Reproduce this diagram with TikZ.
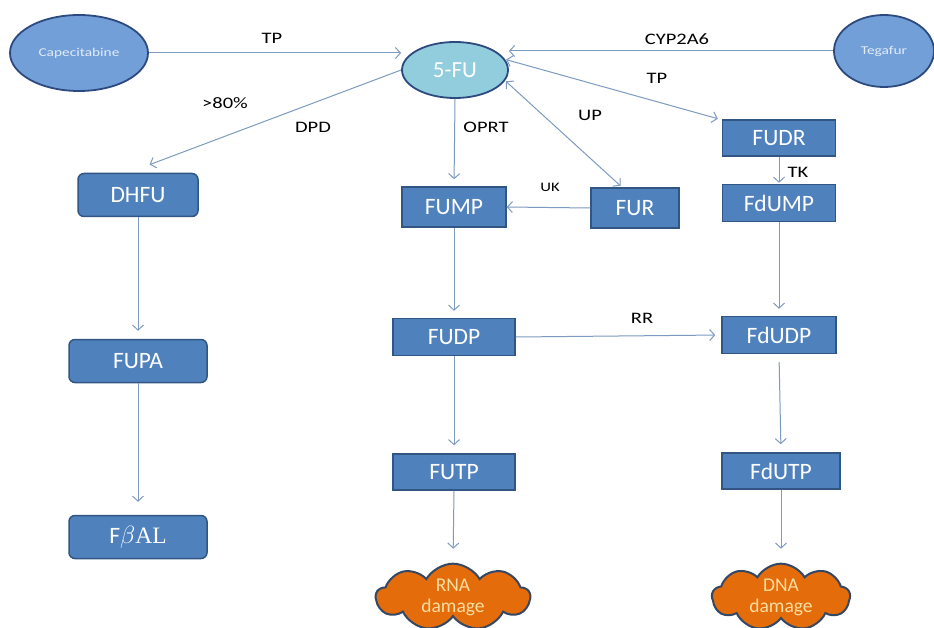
\documentclass[tikz,border=0pt]{standalone}
\usepackage{fontspec}
\setmainfont{Carlito}
\newfontfamily\serifAL{Liberation Serif}
\usetikzlibrary{arrows.meta,shapes.geometric,shapes.symbols,calc}
\definecolor{boxfill}{RGB}{79,129,189}
\definecolor{boxline}{RGB}{50,86,132}
\definecolor{ovalfill}{RGB}{114,159,215}
\definecolor{fufill}{RGB}{146,205,222}
\definecolor{ovalline}{RGB}{44,74,128}
\definecolor{arrowc}{RGB}{125,155,192}
\definecolor{cloudfill}{RGB}{228,108,10}
\definecolor{cloudline}{RGB}{52,72,100}
\definecolor{cloudtext}{RGB}{252,222,160}
\newcommand\wdx[1]{\scalebox{1.28}[1]{#1}}
\begin{document}
\begin{tikzpicture}[x=1pt,y=-1pt,
  box/.style={draw=boxline, line width=1.5pt, fill=boxfill, text=white,
    font=\fontsize{23.5}{25}\selectfont, minimum height=38pt, inner sep=0pt},
  rbox/.style={box, rounded corners=6pt, minimum height=43pt},
  oval/.style={ellipse, draw=ovalline, line width=1.8pt, fill=ovalfill, inner sep=0pt,
    text={rgb,255:red,225;green,235;blue,248}, font=\fontsize{12}{14}\selectfont},
  dmg/.style={cloud, cloud puffs=9, cloud puff arc=120, cloud ignores aspect,
    draw=cloudline, line width=2pt, fill=cloudfill, text=cloudtext, inner sep=0pt,
    minimum width=150pt, minimum height=64pt, align=center,
    font=\fontsize{19.5}{21}\selectfont},
  arr/.style={draw=arrowc, line width=1pt, -{Straight Barb[length=5pt,width=11pt]}},
  darr/.style={draw=arrowc, line width=1pt, {Straight Barb[length=5pt,width=11pt]}-{Straight Barb[length=5pt,width=11pt]}},
  lbl/.style={font=\fontsize{16}{18}\selectfont, text=black, inner sep=0pt}]
\useasboundingbox (0,0) rectangle (934,628);
\fill[white] (0,0) rectangle (934,628);

% ellipses
\node[oval, minimum width=138pt, minimum height=76pt] (cap) at (79,53) {\wdx{Capecitabine}};
\node[oval, minimum width=100pt, minimum height=72pt] (teg) at (884,51) {\wdx{Tegafur}};
\node[oval, fill=fufill, minimum width=106pt, minimum height=56pt, text=white,
      font=\fontsize{23}{25}\selectfont] (fu) at (455,70) {5-FU};

% left column
\node[rbox, minimum width=120pt] (dhfu) at (138,195) {DHFU};
\node[rbox, minimum width=138pt] (fupa) at (138,361) {FUPA};
\node[rbox, minimum width=138pt] (fbal) at (138,537) {F$\beta${\serifAL AL}};

% middle column
\node[box, minimum width=104pt, minimum height=40pt] (fump) at (454,207) {FUMP};
\node[box, minimum width=88pt, minimum height=40pt] (fur) at (635,208) {FUR};
\node[box, minimum width=122pt, minimum height=37pt] (fudp) at (454,337) {FUDP};
\node[box, minimum width=122pt, minimum height=36pt] (futp) at (454,472) {FUTP};

% right column
\node[box, minimum width=113pt, minimum height=36pt] (fudr) at (779,138) {FUDR};
\node[box, minimum width=113pt, minimum height=37pt] (fdump) at (779,203) {FdUMP};
\node[box, minimum width=114pt, minimum height=37pt] (fdudp) at (779,335) {FdUDP};
\node[box, minimum width=118pt, minimum height=36pt] (fdutp) at (781,471) {FdUTP};

% clouds
\node[dmg, minimum width=154pt] (rna) at (453,597) {RNA\\damage};
\node[dmg, minimum width=138pt] (dna) at (781,597) {DNA\\damage};

% connectors
\draw[arr] (cap.east) -- (fu.west |- cap.east);
\draw[arr] (teg.west) -- (fu.east |- teg.west);
\draw[arr, shorten >=6pt] (fu.west) -- ($(dhfu.north)+(6,-6)$);
\draw[arr, shorten >=7pt] (fu.south) -- (fump.north);
\draw[darr, shorten <=1pt, shorten >=2pt] (fu.12) -- ($(fudr.north west)+(-2,0)$);
\draw[darr, shorten <=1pt, shorten >=2pt] (fu.-12) -- ($(fur.north)+(-13,0)$);
\draw[arr] (fur.west) -- (fump.east);
\draw[arr, shorten >=1pt] (fudr.south) -- (fdump.north);
\draw[arr, shorten >=7pt] (fump.south) -- (fudp.north);
\draw[arr, shorten >=6pt] (fudp.east) -- (fdudp.west);
\draw[arr, shorten >=7pt] (fdump.south) -- (fdudp.north);
\draw[arr, shorten >=8pt] (fudp.south) -- (futp.north);
\draw[arr, shorten <=8pt, shorten >=8pt] (fdudp.south) -- (fdutp.north);
\draw[arr, shorten >=14pt] (futp.south) -- (rna.north);
\draw[arr, shorten >=14pt] (fdutp.south) -- (dna.north);
\draw[arr, shorten >=8pt] (dhfu.south) -- (fupa.north);
\draw[arr, shorten >=13pt] (fupa.south) -- (fbal.north);

% labels
\node[lbl] (lTP1) at (272,38) {\wdx{TP}};
\node[lbl] (lCYP) at (677,39) {\wdx{CYP2A6}};
\node[lbl] (lTP2) at (657,78) {\wdx{TP}};
\node[lbl] (l80) at (225,103) {\wdx{>80\%}};
\node[lbl] (lDPD) at (313,127) {\wdx{DPD}};
\node[lbl] (lOPRT) at (486,127) {\wdx{OPRT}};
\node[lbl] (lUP) at (590,115) {\wdx{UP}};
\node[lbl, font=\fontsize{13}{15}\selectfont] (lUK) at (550,187) {\wdx{UK}};
\node[lbl] (lTK) at (798,172) {\wdx{TK}};
\node[lbl] (lRR) at (642,318) {\wdx{RR}};
\end{tikzpicture}
\end{document}
